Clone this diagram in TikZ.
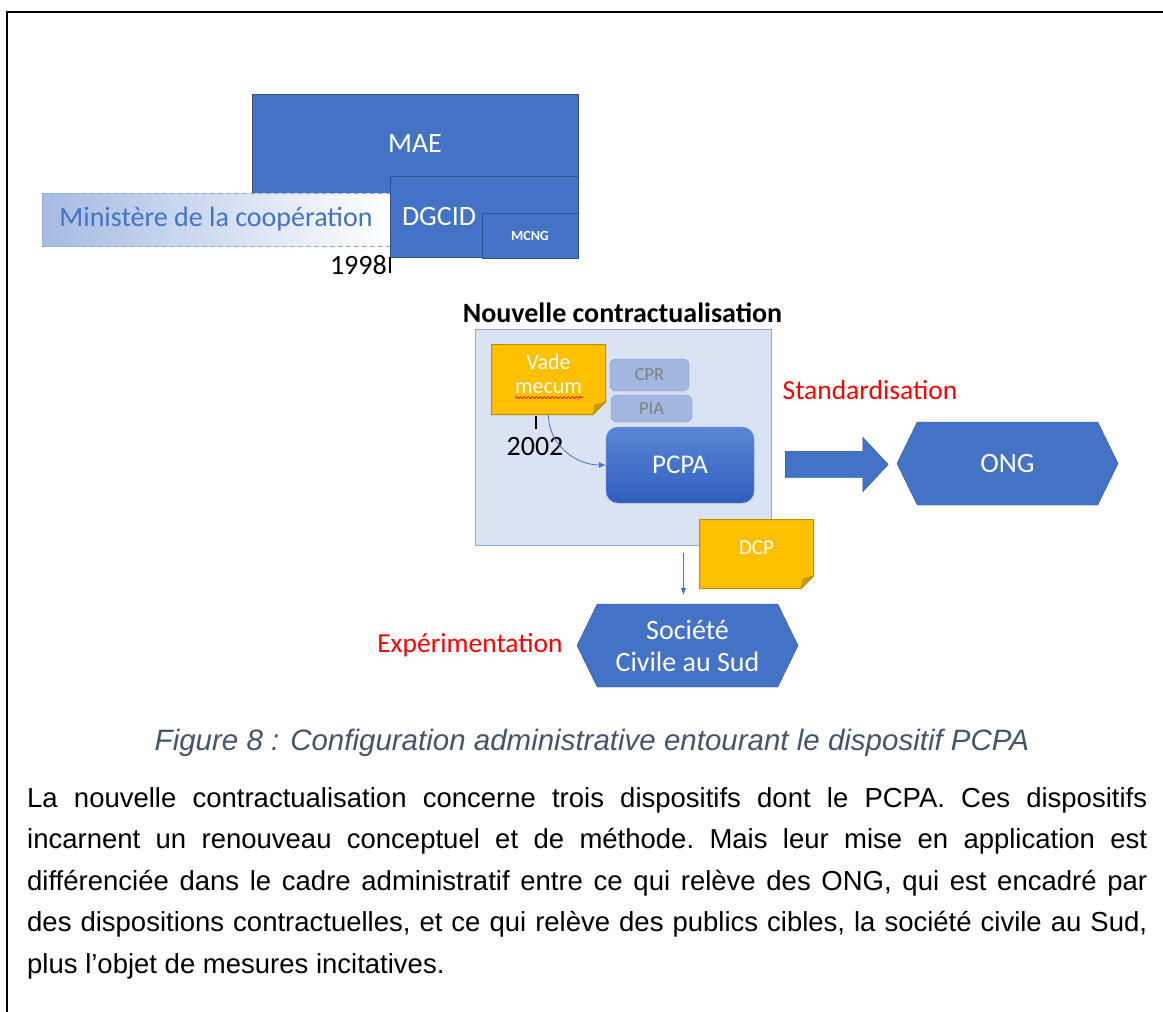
\documentclass[tikz,border=0pt]{standalone}
\usepackage{fontspec}
\setmainfont{Carlito}
\newfontfamily\arialfont{Liberation Sans}
\usetikzlibrary{positioning,calc,shapes.symbols,shapes.arrows,arrows.meta,decorations.pathmorphing}

\definecolor{maeblue}{HTML}{4472C4}
\definecolor{maeline}{HTML}{2F528F}
\definecolor{paleblue}{HTML}{DAE3F3}
\definecolor{paleline}{HTML}{8FAADC}
\definecolor{notegold}{HTML}{FFC000}
\definecolor{noteline}{HTML}{BF9000}
\definecolor{notefold}{HTML}{C99A0E}
\definecolor{captiongray}{HTML}{44546A}
\definecolor{greytext}{HTML}{7F7F7F}
\definecolor{pcpatop}{HTML}{5B87D6}
\definecolor{pcpabottom}{HTML}{2F5EBD}

\tikzset{
  orgbox/.style={draw=maeline, fill=maeblue, text=white, inner sep=0pt, line width=0.8pt},
  sidebox/.style={draw=maeblue!75, fill=maeblue!50, rounded corners=6pt, text=greytext,
    inner sep=0pt, font=\fontsize{18.5}{20}\selectfont},
  notebox/.style={rectangle, inner sep=0pt, text=white, align=center,
    path picture={
      \filldraw[fill=notegold, draw=noteline, line width=1pt]
        ([shift={(0.5pt,-0.5pt)}]path picture bounding box.north west)
        -- ([shift={(-0.5pt,-0.5pt)}]path picture bounding box.north east)
        -- ([shift={(-0.5pt,13pt)}]path picture bounding box.south east)
        -- ([shift={(-13pt,0.5pt)}]path picture bounding box.south east)
        -- ([shift={(0.5pt,0.5pt)}]path picture bounding box.south west) -- cycle;
      \filldraw[fill=notefold, draw=noteline, line width=0.8pt]
        ([shift={(-0.5pt,13pt)}]path picture bounding box.south east)
        -- ([shift={(-13pt,0.5pt)}]path picture bounding box.south east)
        -- ([shift={(-11pt,10pt)}]path picture bounding box.south east) -- cycle;
    }},
  hexbox/.style={signal, signal to=west and east, signal pointer angle=128,
    draw=maeline, fill=maeblue, text=white, inner sep=0pt, align=center,
    minimum width=221pt, minimum height=83pt, font=\fontsize{28}{32}\selectfont},
  redlabel/.style={text=red, inner sep=0pt, font=\fontsize{27.5}{30}\selectfont},
  smallarrow/.style={-{Latex[length=7pt,width=6pt]}, maeblue, line width=0.8pt},
}

\begin{document}
\begin{tikzpicture}[x=1pt, y=-1pt]
  \useasboundingbox (0,0) rectangle (1163,1012);
  % page frame
  \draw[line width=2.5pt] (1163,12) -- (7,12) -- (7,1012);

  % Ministries in 1998
  \node[orgbox, minimum width=326pt, minimum height=99pt, font=\fontsize{28}{30}\selectfont] (mae) at (415,143.5) {MAE};
  \node[draw=paleline, dash pattern=on 5pt off 3pt, left color=maeblue!48, right color=white,
    minimum width=348pt, minimum height=53pt, inner sep=0pt, text=maeblue,
    font=\fontsize{28}{30}\selectfont] (minco) at (216,219.5) {Ministère de la coopération};
  \node[orgbox, minimum width=188pt, minimum height=81pt, text width=164pt, align=left,
    inner xsep=12pt, font=\fontsize{28}{30}\selectfont] (dgcid) at (484,216.5) {DGCID};
  \node[orgbox, minimum width=96pt, minimum height=45pt, font=\bfseries\fontsize{14}{16}\selectfont] (mcng) at (530,235.5) {MCNG};
  \node[anchor=east, inner sep=0pt, font=\fontsize{28}{30}\selectfont] (y98) at (387,265) {1998};
  \draw[line width=2pt] (dgcid.south west) -- ++(0,16);

  % Nouvelle contractualisation
  \node[draw=paleline, fill=paleblue, minimum width=296pt, minimum height=216pt, inner sep=0pt] (contract) at (623,437) {};
  \node[font=\bfseries\fontsize{28}{30}\selectfont] (title) at (622.5,313) {Nouvelle contractualisation};
  \node[notebox, minimum width=115pt, minimum height=71pt, text depth=11pt,
    font=\fontsize{22}{24}\selectfont] (vade) at (548.5,379.5) {Vade\\mecum};
  \draw[red, line width=0.7pt, decorate, decoration={snake, amplitude=1pt, segment length=4pt}] (515,397.5) -- (583,397.5);
  \node[sidebox, minimum width=79pt, minimum height=32pt] (cpr) at (649.5,375) {CPR};
  \node[sidebox, minimum width=81pt, minimum height=27pt] (pia) at (651.5,408.5) {PIA};
  \node[rounded corners=12pt, top color=pcpatop, bottom color=pcpabottom, draw=maeblue!80,
    minimum width=148pt, minimum height=76pt, inner sep=0pt, text=white,
    font=\fontsize{27}{30}\selectfont] (pcpa) at (680,465) {PCPA};
  \node[inner sep=0pt, font=\fontsize{28}{30}\selectfont] (y02) at (535,447) {2002};
  \draw[line width=2.5pt] (536,416) -- (536,429);
  \draw[smallarrow] (vade.south) to[out=-90, in=180] (pcpa.west);

  % Standardisation towards ONG
  \node[single arrow, fill=maeblue, draw=maeline, single arrow head extend=14pt,
    single arrow tip angle=94, single arrow head indent=0pt,
    minimum height=103pt, inner xsep=0pt, inner ysep=13pt, anchor=tail] (stdarrow) at (785,464.5) {};
  \node[redlabel] (std) at (870,390) {Standardisation};
  \node[hexbox] (ong) at (1007.5,463.5) {ONG};

  % Experimentation towards the South
  \node[notebox, minimum width=115pt, minimum height=70pt, text depth=12pt,
    font=\fontsize{21}{24}\selectfont] (dcp) at (756.5,554) {DCP};
  \node[hexbox] (soc) at (687.5,645.5) {Société\\Civile au Sud};
  \node[redlabel, left=14pt of soc] (exp) {Expérimentation};
  \coordinate (arrtop) at (contract.south -| soc.north);
  \draw[smallarrow] ($(arrtop)+(-4,8)$) -- ($(soc.north)+(-4,-9)$);

  % caption and text
  \node[anchor=base, inner sep=0pt, text=captiongray, font=\arialfont\itshape\fontsize{29.5}{32}\selectfont] (caption) at (592,750)
    {Figure 8 : Configuration administrative entourant le dispositif PCPA};
  \node[anchor=base west, inner sep=0pt, text width=1120pt, align=justify,
    font=\arialfont\frenchspacing\fontsize{27.5}{41.5}\selectfont] (body) at (27,807)
    {La nouvelle contractualisation concerne trois dispositifs dont le PCPA. Ces dispositifs\linebreak
     incarnent un renouveau conceptuel et de méthode. Mais leur mise en application est\linebreak
     différenciée dans le cadre administratif entre ce qui relève des ONG, qui est encadré par\linebreak
     des dispositions contractuelles, et ce qui relève des publics cibles, la société civile au Sud,\linebreak
     plus l’objet de mesures incitatives.};
\end{tikzpicture}
\end{document}
